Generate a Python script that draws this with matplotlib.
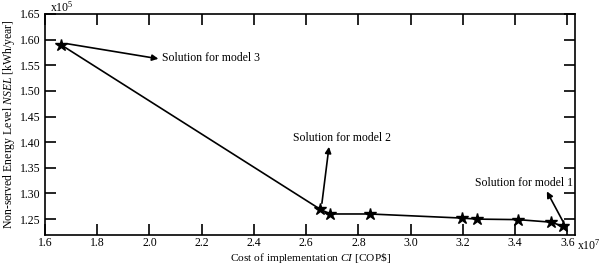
import matplotlib
matplotlib.use("Agg")
import matplotlib.pyplot as plt

cost = [1.661, 2.654, 2.692, 2.843, 3.196, 3.253, 3.410, 3.538, 3.582]
nsel = [1.590, 1.269, 1.260, 1.260, 1.252, 1.250, 1.249, 1.244, 1.236]
xticks = [1.6, 1.8, 2.0, 2.2, 2.4, 2.6, 2.8, 3.0, 3.2, 3.4, 3.6]
yticks = [1.25, 1.30, 1.35, 1.40, 1.45, 1.50, 1.55, 1.60, 1.65]

plt.rcParams['font.family'] = ['Liberation Serif', 'DejaVu Serif']
plt.rcParams['mathtext.fontset'] = 'custom'
plt.rcParams['mathtext.it'] = 'Liberation Serif:italic'
plt.rcParams['mathtext.rm'] = 'Liberation Serif'

fig = plt.figure(figsize=(6.0, 2.64), dpi=100)
ax = fig.add_axes([0.075, 1 - 235 / 264, 0.883, (235 - 14) / 264])

ax.plot(cost, nsel, color='black', lw=1.2, marker='*', ms=9, mfc='black', mec='black')

ax.set_xlim(1.6, 3.628)
ax.set_ylim(1.219, 1.65)
ax.set_xticks(xticks)
ax.set_xticklabels([f"{v:.1f}" for v in xticks])
ax.set_yticks(yticks)
ax.set_yticklabels([f"{v:.2f}" for v in yticks])
ax.tick_params(direction='in', length=8, width=1.2, top=True, right=True,
               labelsize=8.5, pad=3)
ax.tick_params(axis='x', pad=1.5)
for s in ax.spines.values():
    s.set_linewidth(1.2)

ax.set_ylabel("Non-served Energy Level $NSEL$ [kWh/year]", fontsize=8.5, labelpad=2)
fig.text((45 + 575) / 2 / 600, 1 - 261 / 264, "Cost of implementation $CI$ [COP\\$]",
         fontsize=8.2, ha='center', va='baseline')

fig.text(50 / 600, 1 - 12 / 264, r"x10$^5$", fontsize=8.5, ha='left', va='baseline')
fig.text(577 / 600, 1 - 250 / 264, r"x10$^7$", fontsize=8.5, ha='left', va='baseline')

arrow = dict(arrowstyle='-|>', color='black', lw=1.2, mutation_scale=9,
             shrinkA=0, shrinkB=0)

ax.text(2.048, 1.5647, "Solution for model 3", fontsize=8.5, va='center', ha='left')
ax.annotate("", xy=(2.034, 1.5627), xytext=(1.685, 1.592), arrowprops=arrow)

ax.text(2.735, 1.408, "Solution for model 2", fontsize=8.5, va='center', ha='center')
ax.annotate("", xy=(2.687, 1.391), xytext=(2.660, 1.281), arrowprops=arrow)

ax.text(3.433, 1.321, "Solution for model 1", fontsize=8.5, va='center', ha='center')
ax.annotate("", xy=(3.521, 1.304), xytext=(3.582, 1.246), arrowprops=arrow)

fig.savefig("out.png", dpi=100)
